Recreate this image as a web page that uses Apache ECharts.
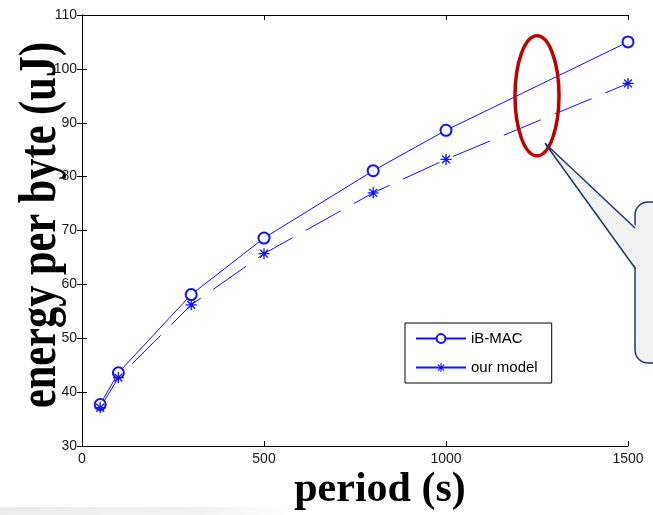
<!DOCTYPE html>
<html>
<head>
<meta charset="utf-8">
<style>
  html, body { margin: 0; padding: 0; background: #fff; }
  #chart { width: 653px; height: 515px; }
</style>
<script src="https://cdn.jsdelivr.net/npm/echarts@6/dist/echarts.min.js"></script>
</head>
<body>
<div id="chart"></div>
<script>
(function () {
  // period (s)
  const PERIODS = [50, 100, 300, 500, 800, 1000, 1500];
  // energy per byte (uJ)
  const IBMAC = [37.7, 43.6, 58.1, 68.6, 81.1, 88.6, 105.0];
  const OUR_MODEL = [37.1, 42.7, 56.2, 65.7, 77.0, 83.2, 97.3];
  const X_TICKS = [0, 500, 1000, 1500];
  const Y_TICKS = [30, 40, 50, 60, 70, 80, 90, 100, 110];

  const BLUE = '#1010ff';
  const SERIF = '"Liberation Serif", "Times New Roman", serif';
  const SANS = '"Liberation Sans", Arial, sans-serif';

  // asterisk marker built from thin bars
  const STAR = 'path://M8.8,0h2.4v20h-2.4z M0,8.8h20v2.4h-20z ' +
    'M2.0,3.7 L3.7,2.0 L18.0,16.3 L16.3,18.0 Z M16.3,2.0 L18.0,3.7 L3.7,18.0 L2.0,16.3 Z';

  const pairs = ys => PERIODS.map((x, i) => [x, ys[i]]);

  const axisCommon = {
    axisLine: { show: true, lineStyle: { color: '#000', width: 1 } },
    axisTick: { show: true, inside: true, length: 5, lineStyle: { color: '#000' } },
    splitLine: { show: false }
  };

  const chart = echarts.init(document.getElementById('chart'));
  chart.setOption({
    animation: false,
    backgroundColor: '#fff',
    grid: { left: 82, top: 15, right: 25, bottom: 69 },
    xAxis: [
      Object.assign({
        type: 'value', min: X_TICKS[0], max: X_TICKS[X_TICKS.length - 1], interval: 500,
        axisLabel: { color: '#1a1a1a', fontFamily: SANS, fontSize: 14, margin: 6, formatter: v => String(v) }
      }, axisCommon),
      Object.assign({
        type: 'value', position: 'top', min: 0, max: 1500, interval: 500,
        axisLabel: { show: false }
      }, axisCommon)
    ],
    yAxis: [
      Object.assign({
        type: 'value', min: Y_TICKS[0], max: Y_TICKS[Y_TICKS.length - 1], interval: 10,
        axisLabel: { color: '#1a1a1a', fontFamily: SANS, fontSize: 14, margin: 5 }
      }, axisCommon),
      Object.assign({
        type: 'value', position: 'right', min: 30, max: 110, interval: 10,
        axisLabel: { show: false }
      }, axisCommon)
    ],
    legend: {
      orient: 'vertical',
      left: 405, top: 323,
      padding: [8, 14, 8, 10],
      itemWidth: 50, itemHeight: 11, itemGap: 14,
      backgroundColor: '#fff',
      borderColor: '#000', borderWidth: 1, borderRadius: 0,
      textStyle: { color: '#000', fontFamily: SANS, fontSize: 15 },
      data: [
        { name: 'iB-MAC' },
        { name: 'our model', lineStyle: { type: 'solid' } }
      ]
    },
    series: [
      {
        name: 'iB-MAC', type: 'line', data: pairs(IBMAC),
        symbol: 'emptyCircle', symbolSize: 11, clip: false,
        lineStyle: { color: BLUE, width: 1 },
        itemStyle: { color: BLUE, borderColor: BLUE, borderWidth: 1 }
      },
      {
        name: 'our model', type: 'line', data: pairs(OUR_MODEL),
        symbol: STAR, symbolSize: 11, clip: false,
        lineStyle: { color: BLUE, width: 1, type: [40, 15] },
        itemStyle: { color: BLUE }
      }
    ]
  });

  // annotation: red ellipse around the gap and a callout box
  const c = chart.convertToPixel({ gridIndex: 0 }, [1250, 95]);
  const tip = chart.convertToPixel({ gridIndex: 0 }, [1272, 86.2]);
  const boxX = 635, boxY = 202, boxH = 161;

  chart.setOption({
    graphic: [
      {
        type: 'rect', silent: true, z: 0,
        shape: { x: 0, y: 507, width: 290, height: 8 },
        style: {
          fill: new echarts.graphic.LinearGradient(0, 0, 1, 0, [
            { offset: 0, color: '#ececec' }, { offset: 0.7, color: '#f2f2f2' }, { offset: 1, color: '#ffffff' }
          ])
        }
      },
      {
        type: 'text', silent: true,
        x: 41, y: 225, rotation: Math.PI / 2, scaleX: 0.8,
        style: {
          text: 'energy per byte (uJ)', font: 'bold 53px ' + SERIF, fill: '#000',
          textAlign: 'center', textVerticalAlign: 'middle'
        }
      },
      {
        type: 'text', silent: true,
        x: 380, y: 490,
        style: {
          text: 'period (s)', font: 'bold 42px ' + SERIF, fill: '#000',
          textAlign: 'center', textVerticalAlign: 'middle'
        }
      },
      {
        type: 'ellipse', silent: true, z: 100,
        shape: { cx: c[0], cy: c[1], rx: 22, ry: 60 },
        style: { fill: null, stroke: '#c00000', lineWidth: 3.5 }
      },
      {
        type: 'rect', silent: true, z: 100,
        shape: { x: boxX, y: boxY, width: 60, height: boxH, r: 13 },
        style: { fill: '#f2f2f2', stroke: '#1f3864', lineWidth: 1.5 }
      },
      {
        type: 'polygon', silent: true, z: 101,
        shape: { points: [tip, [boxX + 2, 227], [boxX + 2, 269]] },
        style: { fill: '#f2f2f2' }
      },
      {
        type: 'polyline', silent: true, z: 102,
        shape: { points: [[boxX, 228], tip, [boxX, 268]] },
        style: { fill: null, stroke: '#1f3864', lineWidth: 1.5 }
      }
    ]
  });

  window.addEventListener('resize', () => chart.resize());
})();
</script>
</body>
</html>
